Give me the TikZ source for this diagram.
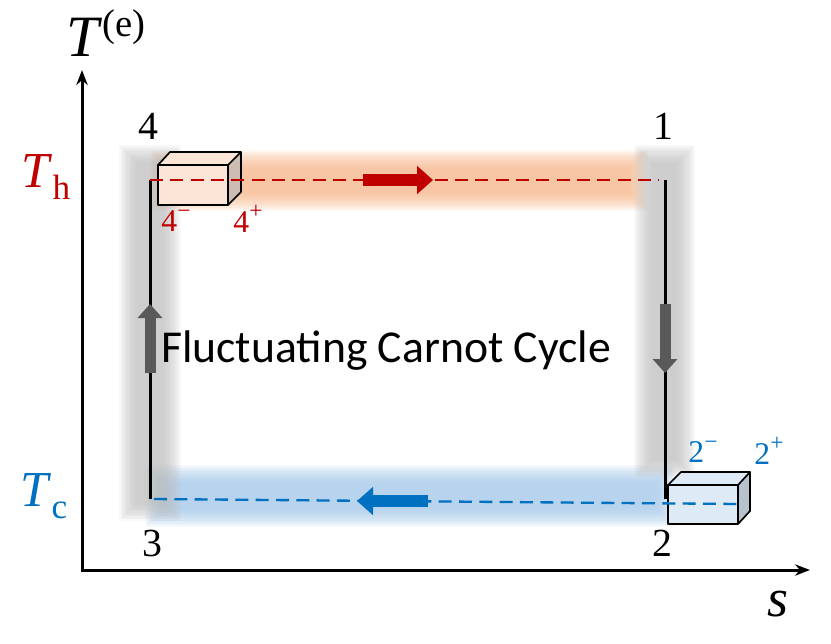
\documentclass[tikz,border=0pt]{standalone}
\usepackage{fontspec}
\setmainfont{Carlito}
\newfontfamily\serif{Liberation Serif}
\usetikzlibrary{arrows.meta, positioning, calc}

\definecolor{hotred}{RGB}{192,0,0}
\definecolor{coldblue}{RGB}{0,112,192}
\definecolor{hotband}{RGB}{244,177,131}
\definecolor{coldband}{RGB}{157,195,230}
\definecolor{adiaband}{RGB}{188,188,188}
\definecolor{flowgray}{RGB}{89,89,89}
\definecolor{hotbox}{RGB}{251,229,214}
\definecolor{hotside}{RGB}{204,188,178}
\definecolor{coldbox}{RGB}{222,235,247}
\definecolor{coldside}{RGB}{184,194,204}

% soft band: stacked translucent rectangles
\newcommand{\softband}[5]{%
  \foreach \k in {0,...,11}{
    \fill[#1, opacity=0.1] ($(#2,#3)+(1.6*\k,1.6*\k)$) rectangle ($(#4,#5)-(1.6*\k,1.6*\k)$);
  }}
\newcommand{\supr}[1]{\raisebox{0.42em}{\fontsize{20}{21}\selectfont #1}}

\begin{document}
\begin{tikzpicture}[x=0.3mm, y=-0.3mm,
    axis/.style={line width=0.9mm, -{Stealth[length=4.5mm, width=3.4mm]}},
    stroke/.style={line width=0.9mm, black},
    iso/.style={line width=0.7mm, dash pattern=on 3.9mm off 2.2mm},
    flow/.style={line width=3.8mm, -{Triangle[length=4.8mm, width=8.2mm]}},
    vflow/.style={line width=3.3mm, flowgray, -{Triangle[length=4.2mm, width=7.2mm]}},
    state/.style={font=\serif\fontsize{34}{36}\selectfont},
    sub/.style={font=\serif\fontsize{27}{29}\selectfont},
    boxedge/.style={line width=0.5mm, black, line join=round}]
  \useasboundingbox (0,0) rectangle (831,643);

  % bands
  \softband{hotband}{150}{150}{648}{211}
  \softband{coldband}{145}{465}{675}{527}
  \softband{adiaband}{119}{145}{181}{521}
  \softband{adiaband}{634}{145}{695}{478}

  % axes
  \coordinate (origin) at (82,570);
  \coordinate (ytip) at (82,70);
  \coordinate (xtip) at (810,570);
  \draw[axis] ($(origin)+(0,1.5)$) -- (ytip);
  \draw[axis] ($(origin)+(-1.5,0)$) -- (xtip);
  \node[font=\serif\fontsize{50}{52}\selectfont] (tlabel) at (106,33)
    {\textit{T}\raisebox{0.34em}{\fontsize{33}{35}\selectfont(e)}};
  \node[font=\serif\itshape\fontsize{46}{48}\selectfont] (slabel) at (778,604) {s};
  \node[font=\serif\fontsize{43}{45}\selectfont, text=hotred] (th) at (46,177)
    {\textit{T}\raisebox{-0.25em}{\fontsize{30}{32}\selectfont h}};
  \node[font=\serif\fontsize{43}{45}\selectfont, text=coldblue] (tc) at (44,496)
    {\textit{T}\raisebox{-0.25em}{\fontsize{30}{32}\selectfont c}};

  % corners of the cycle
  \coordinate (c1) at (665,180);
  \coordinate (c2) at (665,499);
  \coordinate (c3) at (150,499);
  \coordinate (c4) at (150,180);
  \coordinate (c2r) at (738,504);

  % box at 4
  \fill[hotbox] (158,165) rectangle (228,205);
  \fill[hotbox] (158,165) -- (170,152) -- (241,152) -- (228,165) -- cycle;
  \fill[hotside] (228,165) -- (241,152) -- (241,192) -- (228,205) -- cycle;
  \draw[boxedge] (158,165) rectangle (228,205);
  \draw[boxedge] (158,165) -- (170,152) -- (241,152) -- (228,165);
  \draw[boxedge] (241,152) -- (241,192) -- (228,205);

  % box at 2
  \fill[coldbox] (668,485) rectangle (738,524);
  \fill[coldbox] (668,485) -- (681,472) -- (750,472) -- (738,485) -- cycle;
  \fill[coldside] (738,485) -- (750,472) -- (750,511) -- (738,524) -- cycle;
  \draw[boxedge] (668,485) rectangle (738,524);
  \draw[boxedge] (668,485) -- (681,472) -- (750,472) -- (738,485);
  \draw[boxedge] (750,472) -- (750,511) -- (738,524);

  % cycle
  \draw[stroke] (c1) -- (c2);
  \draw[stroke] (c3) -- (c4);
  \draw[iso, hotred] (c4) -- ($(c1)+(-6,0)$);
  \draw[iso, coldblue] ($(c3)+(4,0)$) -- (c2r);

  % direction arrows
  \coordinate (hs) at (363,180);
  \coordinate (he) at (433,180);
  \coordinate (cs) at (428,501);
  \coordinate (ce) at (357,501);
  \draw[flow, hotred] (hs) -- (he);
  \draw[flow, coldblue] (cs) -- (ce);
  \draw[vflow] (150,373) -- (150,304);
  \draw[vflow] (665,304) -- (665,373);

  % labels
  \node[state] (n4) at (148,126) {4};
  \node[state] (n1) at (663,126) {1};
  \node[state] (n3) at (152,543) {3};
  \node[state] (n2) at (662,543) {2};
  \node[sub, text=hotred] (m4) at (176,221) {4\supr{−}};
  \node[sub, text=hotred] (p4) at (248,219) {4\supr{+}};
  \node[sub, text=coldblue] (m2) at (703,452) {2\supr{−}};
  \node[sub, text=coldblue] (p2) at (769,451) {2\supr{+}};
  \node[font=\fontsize{39}{41}\selectfont, anchor=base] (title) at (386,362) {Fluctuating Carnot Cycle};
\end{tikzpicture}
\end{document}
